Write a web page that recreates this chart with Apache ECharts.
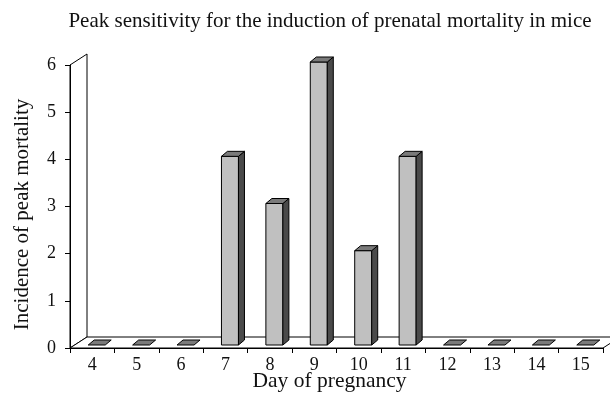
<!DOCTYPE html>
<html><head><meta charset="utf-8">
<script src="https://cdn.jsdelivr.net/npm/echarts@6/dist/echarts.min.js"></script>
<style>html,body{margin:0;padding:0;background:#fff}#c{width:610px;height:398px}</style>
</head><body><div id="c"></div>
<script>
const days = ['4','5','6','7','8','9','10','11','12','13','14','15'];
const incidence = [0,0,0,4,3,6,2,4,0,0,0,0];
const yTicks = [0,1,2,3,4,5,6];

const FONT = '"Liberation Serif","Times New Roman",serif';
const chart = echarts.init(document.getElementById('c'));
const WDX = 17, WDY = -11;   // wall depth
const BDX = 6, BDY = -5;     // bar depth
function wallItem(params, api){
  const cs = params.coordSys;
  const x0 = cs.x, y0 = cs.y, x1 = cs.x + cs.width, y1 = cs.y + cs.height;
  const st = {fill:'#fff', stroke:'#000', lineWidth:1};
  return {type:'group', children:[
    {type:'polygon', shape:{points:[[x0,y0],[x0+WDX,y0+WDY],[x0+WDX,y1+WDY],[x0,y1]]}, style:st},
    {type:'polygon', shape:{points:[[x0,y1],[x0+WDX,y1+WDY],[x1+WDX,y1+WDY],[x1,y1]]}, style:st}
  ]};
}
function barItem(params, api){
  const i = api.value(0), v = api.value(1);
  const base = api.coord([i,0]);
  const top = api.coord([i,v]);
  const w = 17;
  const l = base[0]-4, r = l + w;
  const yb = base[1]-3, yt = top[1]-3;
  const ln = {stroke:'#000', lineWidth:1};
  const ch = [];
  if (v > 0) {
    ch.push({type:'rect', shape:{x:l, y:yt, width:w, height:yb-yt}, style:Object.assign({fill:'#c0c0c0'}, ln)});
    ch.push({type:'polygon', shape:{points:[[r,yt],[r+BDX,yt+BDY],[r+BDX,yb+BDY],[r,yb]]}, style:Object.assign({fill:'#4a4a4a'}, ln)});
  }
  ch.push({type:'polygon', shape:{points:[[l,yt],[l+BDX,yt+BDY],[r+BDX,yt+BDY],[r,yt]]}, style:Object.assign({fill:'#7a7a7a'}, ln)});
  return {type:'group', children:ch};
}
chart.setOption({
  animation:false,
  backgroundColor:'#fff',
  title:{text:'Peak sensitivity for the induction of prenatal mortality in mice', left:325, textAlign:'center', top:6,
    textStyle:{fontFamily:FONT, fontSize:21, fontWeight:'normal', color:'#111'}},
  grid:{left:70, right:7, top:65, bottom:50, containLabel:false, outerBoundsMode:'none'},
  xAxis:{type:'category', data:days, boundaryGap:true,
    name:'Day of pregnancy', nameLocation:'middle', nameGap:22, nameMoveOverlap:false,
    nameTextStyle:{fontFamily:FONT, fontSize:21.5, color:'#111', padding:[0,14,0,0]},
    axisLine:{lineStyle:{color:'#000', width:1}},
    axisTick:{show:true, length:5, lineStyle:{color:'#000'}},
    axisLabel:{fontFamily:FONT, fontSize:18, color:'#111', margin:8},
    z:5},
  yAxis:{type:'value', min:0, max:6, interval:1,
    name:'Incidence of peak mortality', nameLocation:'middle', nameGap:37, nameRotate:90, nameMoveOverlap:false,
    nameTextStyle:{fontFamily:FONT, fontSize:21, color:'#111', padding:[0,16,0,0]},
    axisLine:{show:true, lineStyle:{color:'#000', width:1}},
    axisTick:{show:true, length:5, lineStyle:{color:'#000'}},
    axisLabel:{fontFamily:FONT, fontSize:18, color:'#111', margin:14,
      formatter:function(v){return yTicks.indexOf(v)>=0 ? String(v) : '';}},
    splitLine:{show:false}, z:5},
  series:[
    {type:'custom', renderItem:wallItem, data:[[0,0]], z:1, silent:true, clip:false},
    {type:'custom', renderItem:barItem, data:incidence.map((v,i)=>[i,v]), z:3, clip:false,
      encode:{x:0, y:1}}
  ]
});
</script></body></html>
